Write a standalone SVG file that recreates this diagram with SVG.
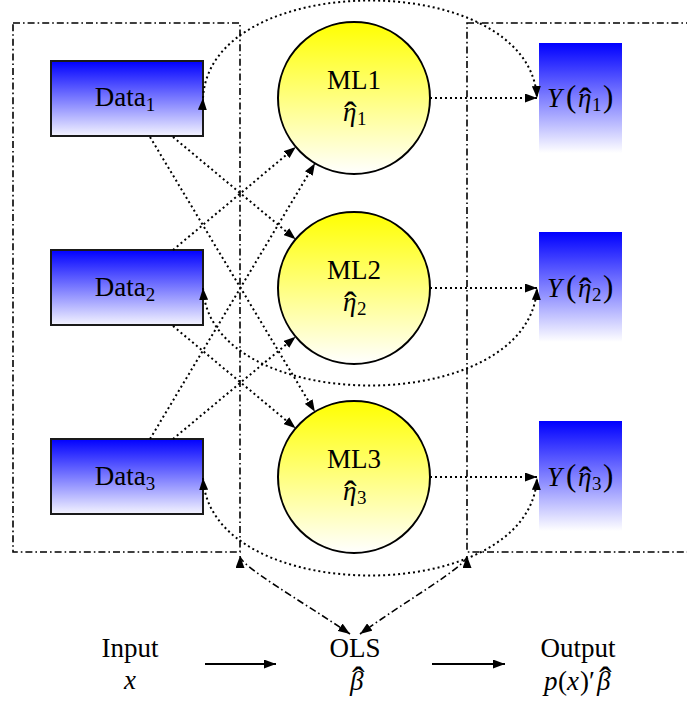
<svg xmlns="http://www.w3.org/2000/svg" width="687" height="701" viewBox="0 0 687 701">
<style>
.t{font-family:"Liberation Serif","Times New Roman",serif;font-size:27px;fill:#000;text-anchor:middle}
.ts{font-family:"Liberation Serif","Times New Roman",serif;font-size:27px;fill:#000}
.m{font-style:italic}
.u{font-style:normal}
.s{font-size:19px;font-style:normal}
.par{font-size:31px;font-style:normal}
.h{font-size:38px;font-style:normal}
.box{stroke:#000;stroke-width:1.6;fill:none;stroke-dasharray:7 3 1.6 3}
.data{fill:url(#gData);stroke:#1a1a1a;stroke-width:2}
.ml{fill:url(#gML);stroke:#000;stroke-width:2}
.yb{fill:url(#gY);stroke:none}
.dot{fill:none;stroke:#000;stroke-width:2;stroke-dasharray:2 3}
.dd{fill:none;stroke:#000;stroke-width:1.6;stroke-dasharray:7 3 1.6 3}
.sol{fill:none;stroke:#000;stroke-width:2}
</style>
<defs>
<linearGradient id="gData" x1="0" y1="0" x2="0" y2="1"><stop offset="0" stop-color="#0000ff"/><stop offset="1" stop-color="#f4f4ff"/></linearGradient>
<linearGradient id="gML" x1="0" y1="0" x2="0" y2="1"><stop offset="0" stop-color="#ffff00"/><stop offset="1" stop-color="#ffffff"/></linearGradient>
<linearGradient id="gY" x1="0" y1="0" x2="0" y2="1"><stop offset="0" stop-color="#0000ff"/><stop offset="1" stop-color="#ffffff"/></linearGradient>
<marker id="arr" viewBox="0 0 12 9" refX="12" refY="4.5" markerWidth="12" markerHeight="9" markerUnits="userSpaceOnUse" orient="auto"><path d="M0,0 L12,4.5 L0,9 z" fill="#000"/></marker>
<marker id="arrR" viewBox="0 0 12 9" refX="12" refY="4.5" markerWidth="12" markerHeight="9" markerUnits="userSpaceOnUse" orient="auto-start-reverse"><path d="M0,0 L12,4.5 L0,9 z" fill="#000"/></marker>
</defs>
<rect width="687" height="701" fill="#fff"/>
<g id="frames">
<rect class="box" x="13" y="23" width="227" height="529"/>
<rect class="box" x="467" y="23" width="260" height="529"/>
</g>
<g id="data1"><rect class="data" x="51" y="61" width="152" height="75"/><text class="t" x="125" y="106">Data<tspan class="s" dy="5">1</tspan></text></g>
<g id="data2"><rect class="data" x="51" y="250" width="152" height="75"/><text class="t" x="125" y="296">Data<tspan class="s" dy="5">2</tspan></text></g>
<g id="data3"><rect class="data" x="51" y="439" width="152" height="75"/><text class="t" x="125" y="485">Data<tspan class="s" dy="5">3</tspan></text></g>
<g id="ml1"><circle class="ml" cx="354" cy="98" r="76"/><text class="t" x="354" y="89">ML1</text><text class="ts m" x="343" y="121">η<tspan class="h" x="344" y="128">ˆ</tspan><tspan class="s" x="357" y="125">1</tspan></text></g>
<g id="ml2"><circle class="ml" cx="354" cy="288" r="76"/><text class="t" x="354" y="279">ML2</text><text class="ts m" x="343" y="311">η<tspan class="h" x="344" y="318">ˆ</tspan><tspan class="s" x="357" y="315">2</tspan></text></g>
<g id="ml3"><circle class="ml" cx="354" cy="477" r="76"/><text class="t" x="354" y="468">ML3</text><text class="ts m" x="343" y="500">η<tspan class="h" x="344" y="507">ˆ</tspan><tspan class="s" x="357" y="504">3</tspan></text></g>
<g id="y1"><rect class="yb" x="539" y="43" width="83" height="110"/><text class="ts m" x="547" y="107">Y<tspan class="par" x="566">(</tspan><tspan x="578">η</tspan><tspan class="h" x="579" y="114">ˆ</tspan><tspan class="s" x="592" y="111">1</tspan><tspan class="par" x="603" y="107">)</tspan></text></g>
<g id="y2"><rect class="yb" x="539" y="232" width="83" height="110"/><text class="ts m" x="547" y="297">Y<tspan class="par" x="566">(</tspan><tspan x="578">η</tspan><tspan class="h" x="579" y="304">ˆ</tspan><tspan class="s" x="592" y="301">2</tspan><tspan class="par" x="603" y="297">)</tspan></text></g>
<g id="y3"><rect class="yb" x="539" y="421" width="83" height="110"/><text class="ts m" x="547" y="486">Y<tspan class="par" x="566">(</tspan><tspan x="578">η</tspan><tspan class="h" x="579" y="493">ˆ</tspan><tspan class="s" x="592" y="490">3</tspan><tspan class="par" x="603" y="486">)</tspan></text></g>
<g id="input"><text class="t" x="130" y="657">Input</text><text class="t m" x="130" y="689">x</text></g>
<g id="ols"><text class="t" x="355" y="657">OLS</text><text class="ts m" x="350" y="690">β<tspan class="h" x="352" y="693">ˆ</tspan></text></g>
<g id="output"><text class="t" x="578" y="657">Output</text><text class="ts m" x="544" y="690">p<tspan class="u" x="558">(</tspan><tspan x="567">x</tspan><tspan class="u" x="580">)′</tspan><tspan x="597">β</tspan><tspan class="h" x="599" y="693">ˆ</tspan></text></g>
<g id="connectors">
<path class="dot" d="M173,137 L295.6,239.3" marker-end="url(#arr)"/>
<path class="dot" d="M150,137 L314.9,411.8" marker-end="url(#arr)"/>
<path class="dot" d="M173,250 L295.8,146.9" marker-end="url(#arr)"/>
<path class="dot" d="M173,326 L295.6,428.3" marker-end="url(#arr)"/>
<path class="dot" d="M150,439 L315,163.2" marker-end="url(#arr)"/>
<path class="dot" d="M173,439 L295.6,336.7" marker-end="url(#arr)"/>
<path class="dot" d="M430,98 L537,98" marker-end="url(#arr)"/>
<path class="dot" d="M430,288 L537,288" marker-end="url(#arr)"/>
<path class="dot" d="M430,477 L537,477" marker-end="url(#arr)"/>
<path class="dot" d="M203,98 C210,-32 530,-32 537,98" marker-start="url(#arr)" marker-end="url(#arr)"/>
<path class="dot" d="M203,288 C210,418 530,418 537,288" marker-start="url(#arrR)" marker-end="url(#arr)"/>
<path class="dot" d="M203,478 C210,608 530,608 537,478" marker-start="url(#arrR)" marker-end="url(#arr)"/>
<path class="dd" d="M240,556 C240,566 300,600 350,634" marker-start="url(#arrR)" marker-end="url(#arr)"/>
<path class="dd" d="M467,556 C467,566 407,600 360,634" marker-start="url(#arrR)" marker-end="url(#arr)"/>
<path class="sol" d="M205,664 L276,664" marker-end="url(#arr)"/>
<path class="sol" d="M432,664 L505,664" marker-end="url(#arr)"/>
</g>
</svg>
